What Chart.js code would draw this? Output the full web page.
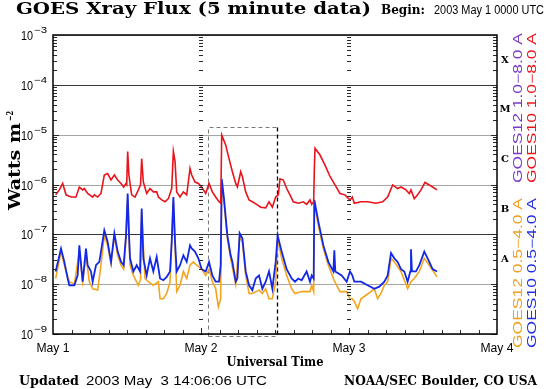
<!DOCTYPE html>
<html>
<head>
<meta charset="utf-8">
<script src="https://cdn.jsdelivr.net/npm/chart.js@4.4.0/dist/chart.umd.min.js"></script>
<style>
  html, body { margin: 0; padding: 0; background: #fff; }
  canvas { display: block; }
</style>
</head>
<body>
<canvas id="xrayChart" width="550" height="389"></canvas>
<script>
// time axis: hours since 2003 May 1 0000 UTC, values in Watts m^-2

// GOES10 1.0-8.0 A (red)
const longHours = [0.43,1.03,1.57,2.11,2.92,3.73,4.27,4.81,5.08,5.62,
  6.43,6.70,7.24,7.78,8.32,8.86,9.41,9.95,10.49,11.03,
  11.46,11.84,11.95,12.11,12.3,12.49,12.76,13.30,13.84,14.2,
  14.38,14.65,15.19,15.73,16.27,16.81,17.09,17.63,18.17,18.71,
  19.25,19.52,19.79,20.06,20.60,21.14,21.68,22.22,22.49,23.03,
  23.57,24.11,24.76,25.30,25.84,26.38,26.92,27.2,27.36,28.00,
  28.54,29.09,29.63,29.90,30.44,30.71,31.25,31.79,32.33,33.14,
  33.68,34.49,35.03,35.57,36.11,36.54,36.81,37.35,37.89,38.43,
  38.97,39.78,40.59,41.13,41.68,41.95,42.27,42.38,42.49,43.30,
  44.11,44.92,45.73,46.54,47.35,48.16,48.54,48.86,49.94,51.02,
  52.37,53.45,54.27,55.08,55.89,56.43,57.24,57.78,58.05,58.59,
  59.13,59.67,60.32,61.02,61.56,62.27];
const longFlux = [6.2e-7,7.8e-7,1.05e-6,6.2e-7,5.6e-7,5.6e-7,8.9e-7,7.8e-7,8.3e-7,6.6e-7,
  5.6e-7,6.2e-7,5.6e-7,6.6e-7,1.55e-6,1.66e-6,1.23e-6,1.55e-6,1.23e-6,1.05e-6,
  8.9e-7,1.05e-6,1.0e-6,4.6e-6,1.6e-6,1.05e-6,6.2e-7,5.6e-7,7.8e-7,1.0e-6,
  3.3e-6,1.12e-6,6.6e-7,8.3e-7,7.1e-7,7.1e-7,5.6e-7,4.9e-7,4.5e-7,5.2e-7,
  8.3e-7,4.6e-6,2.9e-6,7.1e-7,5.6e-7,7.1e-7,6.2e-7,2.1e-6,1.55e-6,1.12e-6,
  1.05e-6,8.9e-7,6.6e-7,1.05e-6,7.1e-7,5.6e-7,4.5e-7,4.2e-7,9.8e-6,6.2e-6,
  3.3e-6,1.8e-6,1.05e-6,8.9e-7,1.8e-6,1.45e-6,7.1e-7,4.9e-7,4.5e-7,3.9e-7,
  3.5e-7,3.4e-7,4.5e-7,3.5e-7,5.6e-7,6.2e-7,1.3e-6,1.23e-6,8.3e-7,6.2e-7,
  4.5e-7,4.2e-7,4.5e-7,4.0e-7,4.9e-7,4.0e-7,4.5e-7,2.1e-6,5.3e-6,3.9e-6,
  2.45e-6,1.45e-6,9.8e-7,6.6e-7,6.2e-7,4.9e-7,5.6e-7,4.2e-7,4.5e-7,4.5e-7,
  4.2e-7,4.5e-7,5.6e-7,9.8e-7,8.3e-7,8.9e-7,7.8e-7,6.6e-7,7.8e-7,5.2e-7,
  6.2e-7,7.8e-7,1.1e-6,9.8e-7,8.9e-7,7.8e-7];

// GOES10 0.5-4.0 A (blue)
const shortHours = [0.43,1.30,1.84,2.38,2.65,3.46,4.0,4.27,4.81,5.35,
  5.62,6.16,6.43,6.97,7.51,7.78,8.32,8.86,9.41,9.95,
  10.49,11.03,11.46,11.84,12.11,12.33,12.49,13.03,13.57,14.11,
  14.38,14.65,15.19,15.73,16.27,16.81,17.36,17.90,18.44,18.98,
  19.25,19.52,19.79,20.06,20.60,21.14,21.68,22.22,22.49,23.03,
  23.57,24.11,24.76,25.30,25.84,26.38,26.92,27.19,27.36,27.73,
  28.27,28.81,29.09,29.63,29.90,30.27,30.71,31.25,31.79,32.33,
  32.87,33.41,33.95,34.49,35.03,35.57,36.11,36.43,37.08,37.89,
  38.70,39.24,39.78,40.32,41.13,41.68,41.95,42.27,42.38,43.03,
  43.84,44.65,45.46,45.62,45.78,46.81,47.62,48.16,48.54,48.86,
  49.94,51.02,52.10,52.91,53.73,54.27,54.81,55.35,55.89,56.43,
  56.97,57.51,57.94,58.05,58.21,58.86,59.40,60.21,60.75,61.56,
  62.27];
const shortFlux = [1.8e-8,5.2e-8,2.8e-8,1.3e-8,9.5e-9,9.5e-9,1.5e-8,6.0e-8,1.12e-8,5.2e-8,
  2.4e-8,1.8e-8,1.12e-8,2.4e-8,2.8e-8,4.5e-8,1.2e-7,7.1e-8,2.8e-8,1.05e-7,
  4.5e-8,2.8e-8,2.4e-8,9.5e-8,6.6e-7,9.5e-8,3.3e-8,1.8e-8,2.4e-8,1.8e-8,
  3.3e-7,3.3e-8,1.5e-8,3.3e-8,1.8e-8,3.5e-8,1.3e-8,1.2e-8,1.4e-8,1.8e-8,
  7.1e-8,5.6e-7,7.1e-8,1.8e-8,2.4e-8,3.8e-8,2.8e-8,6.0e-8,5.2e-8,4.5e-8,
  3.3e-8,2.0e-8,1.8e-8,2.8e-8,1.5e-8,1.12e-8,1.12e-8,2.4e-8,1.3e-6,5.2e-7,
  9.5e-8,3.8e-8,2.8e-8,1.12e-8,1.3e-8,1.05e-7,8.3e-8,1.8e-8,9.5e-9,7.6e-9,
  1.3e-8,1.5e-8,8.1e-9,1.12e-8,1.8e-8,8.1e-9,2.8e-8,9.5e-8,4.5e-8,2.0e-8,
  1.3e-8,1.12e-8,1.3e-8,1.2e-8,1.8e-8,1.12e-8,1.5e-8,1.3e-8,4.9e-7,1.8e-7,
  6.0e-8,2.8e-8,1.8e-8,4.8e-8,1.8e-8,1.5e-8,1.12e-8,1.8e-8,1.5e-8,1.12e-8,
  1.12e-8,9.5e-9,8.1e-9,8.9e-9,1.12e-8,1.5e-8,4.2e-8,3.3e-8,2.8e-8,2.0e-8,
  1.8e-8,1.12e-8,1.8e-8,5.0e-8,1.8e-8,1.8e-8,2.4e-8,4.5e-8,3.3e-8,2.0e-8,
  1.8e-8];

// GOES12 0.5-4.0 A (orange)
const short12Hours = [0.43,1.30,2.11,2.65,3.46,4.27,4.81,5.35,5.89,6.43,
  7.24,7.78,8.32,8.86,9.41,9.95,10.49,11.03,11.46,11.84,
  12.11,12.49,13.03,13.84,14.2,14.38,14.92,15.46,16.27,17.09,
  17.36,17.90,18.44,18.98,19.52,20.06,20.60,21.14,21.68,22.22,
  22.76,23.30,24.11,24.76,25.30,25.84,26.38,26.81,27.19,27.36,
  27.73,28.27,28.81,29.63,30.27,30.71,31.25,31.79,32.33,33.41,
  33.95,34.49,35.03,35.57,36.11,36.43,37.08,37.89,38.70,39.24,
  40.32,41.13,41.68,41.95,42.27,42.38,43.03,43.84,44.65,45.46,
  46.0,46.54,47.62,48.16,48.54,48.86,49.40,49.94,50.75,51.56,
  52.10,52.64,53.18,53.73,54.27,54.81,55.35,56.43,57.51,58.05,
  58.59,59.40,60.21,61.02,62.27];
const short12Flux = [1.3e-8,4.5e-8,1.8e-8,1.12e-8,1.0e-8,4.5e-8,1.12e-8,3.8e-8,1.12e-8,8.1e-9,
  7.6e-9,2.4e-8,9.5e-8,6.0e-8,2.6e-8,8.9e-8,3.8e-8,2.4e-8,2.0e-8,8.3e-8,
  5.2e-7,2.4e-8,1.5e-8,9.5e-9,1.26e-8,2.8e-7,1.3e-8,1.12e-8,9.5e-9,1.12e-8,
  5.1e-9,5.1e-9,6.5e-9,1.12e-8,4.5e-7,7.1e-9,9.5e-9,1.8e-8,1.3e-8,2.4e-8,
  2.8e-8,2.4e-8,2.0e-8,1.5e-8,2.0e-8,1.12e-8,8.1e-9,3.5e-9,5.1e-9,1.12e-6,
  4.5e-7,8.3e-8,3.3e-8,1.0e-8,8.9e-8,7.1e-8,1.5e-8,6.5e-9,6.5e-9,7.6e-9,
  6.5e-9,8.1e-9,5.1e-9,5.1e-9,1.12e-8,8.3e-8,3.3e-8,1.5e-8,8.1e-9,6.5e-9,
  7.1e-9,7.1e-9,7.1e-9,9.5e-9,7.1e-9,4.2e-7,1.5e-7,5.2e-8,2.4e-8,1.3e-8,
  9.5e-9,7.1e-9,7.1e-9,5.1e-9,5.1e-9,4.5e-9,3.2e-9,5.1e-9,6.0e-9,7.1e-9,
  8.1e-9,5.1e-9,6.5e-9,9.5e-9,1.12e-8,3.3e-8,2.8e-8,1.8e-8,8.1e-9,1.12e-8,
  1.3e-8,1.8e-8,3.3e-8,2.4e-8,1.4e-8];

const dayLabels = ['May 1', 'May 2', 'May 3', 'May 4'];
const decadeExps = [-3, -4, -5, -6, -7, -8, -9];
const classLetters = ['X', 'M', 'C', 'B', 'A'];
// dashed event box (hours, flux)
const boxHours = [25.2, 36.4];
const boxFlux = [1.4e-5, 9.1e-10];

const SERIF = "'DejaVu Serif', serif";
const SANS = "'Liberation Sans', Arial, sans-serif";

function toPoints(hours, flux) {
  return hours.map((h, i) => ({ x: h, y: flux[i] }));
}

// draw text squeezed/stretched to a given width
function fitText(ctx, str, x, y, width, font, color, align) {
  ctx.save();
  ctx.font = font;
  ctx.fillStyle = color;
  ctx.textAlign = 'left';
  ctx.textBaseline = 'alphabetic';
  const w = ctx.measureText(str).width;
  let left = x;
  if (align === 'center') left = x - width / 2;
  if (align === 'right') left = x - width;
  ctx.translate(left, y);
  ctx.scale(width / w, 1);
  ctx.fillText(str, 0, 0);
  ctx.restore();
}

// text running bottom -> top, baseline at screen x = bx
function rotText(ctx, str, bx, yStart, len, font, color) {
  ctx.save();
  ctx.translate(bx, yStart);
  ctx.rotate(-Math.PI / 2);
  fitText(ctx, str, 0, 0, len, font, color, 'left');
  ctx.restore();
}

const goesDecor = {
  id: 'goesDecor',
  beforeDatasetsDraw(chart) {
    const { ctx, chartArea: a, scales: { x, y } } = chart;
    ctx.save();
    // decade grid lines
    decadeExps.forEach(e => {
      const py = Math.round(y.getPixelForValue(Math.pow(10, e))) + 0.5;
      ctx.strokeStyle = (e === -4 || e === -7) ? '#383838' : '#a6a6a6';
      ctx.lineWidth = 1.2;
      ctx.beginPath();
      ctx.moveTo(a.left, py);
      ctx.lineTo(a.right, py);
      ctx.stroke();
    });
    // dashed box
    const bx1 = Math.round(x.getPixelForValue(boxHours[0])) + 0.5;
    const bx2 = Math.round(x.getPixelForValue(boxHours[1])) + 0.5;
    const by1 = Math.round(y.getPixelForValue(boxFlux[0])) + 0.5;
    const by2 = Math.round(y.getPixelForValue(boxFlux[1])) + 0.5;
    ctx.setLineDash([4, 3]);
    ctx.lineWidth = 1;
    ctx.strokeStyle = '#7a7a7a';
    ctx.beginPath();
    ctx.moveTo(bx1, by2); ctx.lineTo(bx1, by1); ctx.lineTo(bx2, by1);
    ctx.moveTo(bx1, by2); ctx.lineTo(bx2, by2);
    ctx.stroke();
    ctx.strokeStyle = '#000';
    ctx.lineWidth = 1.3;
    ctx.beginPath();
    ctx.moveTo(bx2, by1); ctx.lineTo(bx2, by2);
    ctx.stroke();
    ctx.restore();
  },
  afterDatasetsDraw(chart) {
    const { ctx, chartArea: a, scales: { x, y } } = chart;
    ctx.save();

    // minor log ticks: left, right, and columns at May 2 / May 3
    ctx.strokeStyle = '#2a2a2a';
    ctx.lineWidth = 1;
    const cols = [24, 48].map(h => Math.round(x.getPixelForValue(h)));
    for (let e = -9; e < -3; e++) {
      for (let m = 1; m <= 9; m++) {
        const py = Math.round(y.getPixelForValue(m * Math.pow(10, e))) + 0.5;
        const len = m === 1 ? 6 : 4;
        ctx.beginPath();
        ctx.moveTo(a.left, py); ctx.lineTo(a.left + len, py);
        ctx.moveTo(a.right, py); ctx.lineTo(a.right - len, py);
        cols.forEach(cx => {
          ctx.moveTo(cx - 2, py); ctx.lineTo(cx + 2, py);
        });
        ctx.stroke();
      }
    }
    // bottom ticks every 3 hours
    for (let h = 3; h < 72; h += 3) {
      const px = Math.round(x.getPixelForValue(h)) + 0.5;
      const len = h % 24 === 0 ? 6 : 4;
      ctx.beginPath();
      ctx.moveTo(px, a.bottom); ctx.lineTo(px, a.bottom - len);
      ctx.stroke();
    }

    // frame
    ctx.strokeStyle = '#000';
    ctx.lineWidth = 1.5;
    ctx.strokeRect(a.left, a.top, a.right - a.left, a.bottom - a.top);

    // y tick labels 10^n
    decadeExps.forEach(e => {
      const py = y.getPixelForValue(Math.pow(10, e));
      fitText(ctx, '10', 33, py + 5, 12, '12px ' + SANS, '#000', 'right');
      fitText(ctx, '\u2212' + (-e), 34, py - 2, 13, '9px ' + SANS, '#000', 'left');
    });

    // flare class letters
    classLetters.forEach((c, i) => {
      const py = y.getPixelForValue(Math.pow(10, -3.5 - i));
      ctx.font = 'bold 10px ' + SERIF;
      ctx.fillStyle = '#000';
      ctx.textAlign = 'center';
      ctx.textBaseline = 'middle';
      ctx.fillText(c, 505, py);
    });

    // x labels
    dayLabels.forEach((d, i) => {
      const px = x.getPixelForValue(i * 24);
      fitText(ctx, d, px, 352, 33, '12px ' + SANS, '#000', 'center');
    });
    fitText(ctx, 'Universal Time', (a.left + a.right) / 2, 366, 97, 'bold 12px ' + SERIF, '#000', 'center');

    // y title
    rotText(ctx, 'Watts m', 20, 210, 87, 'bold 16px ' + SERIF, '#000');
    rotText(ctx, '\u22122', 13, 121, 10, 'bold 9px ' + SERIF, '#000');

    // series labels on the right
    rotText(ctx, 'GOES12 1.0\u22128.0 A', 522, 183, 150, '12px ' + SANS, '#7a3cc8');
    rotText(ctx, 'GOES10 1.0\u22128.0 A', 536, 183, 150, '12px ' + SANS, '#e8181c');
    rotText(ctx, 'GOES12 0.5\u22124.0 A', 522, 348, 150, '12px ' + SANS, '#f0a020');
    rotText(ctx, 'GOES10 0.5\u22124.0 A', 536, 348, 150, '12px ' + SANS, '#2030e0');

    // header
    fitText(ctx, 'GOES Xray Flux (5 minute data)', 16, 14, 355, 'bold 16px ' + SERIF, '#000', 'left');
    fitText(ctx, 'Begin:', 381, 14, 44, 'bold 12px ' + SERIF, '#000', 'left');
    fitText(ctx, '2003 May 1 0000 UTC', 434, 14, 110, '12px ' + SANS, '#000', 'left');

    // footer
    fitText(ctx, 'Updated', 19, 385, 60, 'bold 13px ' + SERIF, '#000', 'left');
    fitText(ctx, '2003 May  3 14:06:06 UTC', 86, 385, 181, '12px ' + SANS, '#000', 'left');
    fitText(ctx, 'NOAA/SEC Boulder, CO USA', 344, 385, 193, 'bold 13px ' + SERIF, '#000', 'left');

    ctx.restore();
  }
};

const ctx = document.getElementById('xrayChart').getContext('2d');
new Chart(ctx, {
  type: 'line',
  data: {
    datasets: [
      {
        label: 'GOES10 1.0-8.0 A',
        data: toPoints(longHours, longFlux),
        borderColor: '#e8141c',
        borderWidth: 1.6,
        order: 0
      },
      {
        label: 'GOES10 0.5-4.0 A',
        data: toPoints(shortHours, shortFlux),
        borderColor: '#1228e6',
        borderWidth: 1.8,
        order: 1
      },
      {
        label: 'GOES12 0.5-4.0 A',
        data: toPoints(short12Hours, short12Flux),
        borderColor: '#f5a41e',
        borderWidth: 1.6,
        order: 2
      }
    ]
  },
  options: {
    responsive: false,
    animation: false,
    layout: { padding: { left: 53, right: 53, top: 35, bottom: 55 } },
    elements: { point: { radius: 0 }, line: { tension: 0 } },
    plugins: { legend: { display: false }, tooltip: { enabled: false } },
    scales: {
      x: { type: 'linear', min: 0, max: 72, display: false },
      y: { type: 'logarithmic', min: 1e-9, max: 1e-3, display: false }
    }
  },
  plugins: [goesDecor]
});
</script>
</body>
</html>
